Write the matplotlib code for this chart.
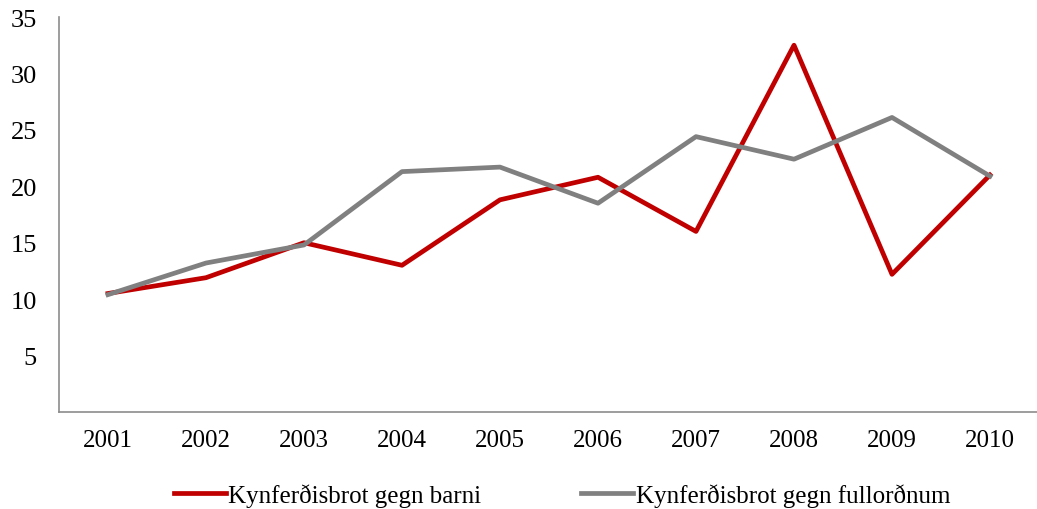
import numpy as np
import matplotlib.pyplot as plt

years = ["2001", "2002", "2003", "2004", "2005", "2006", "2007", "2008", "2009", "2010"]
barni = [10.5, 11.9, 15.0, 13.0, 18.8, 20.8, 16.0, 32.5, 12.2, 21.0]
fullordnum = [10.4, 13.2, 14.8, 21.3, 21.7, 18.5, 24.4, 22.4, 26.1, 20.9]
yticks = [5, 10, 15, 20, 25, 30, 35]

plt.rcParams['font.family'] = ['Liberation Serif', 'DejaVu Serif']

fig = plt.figure(figsize=(10.37, 5.10), dpi=100)
ax = fig.add_axes([59/1037, 97/510, 980/1037, 395/510])

x = np.arange(1, len(years) + 1)
ax.plot(x, barni, color="#C00000", lw=3.4, label="Kynferðisbrot gegn barni")
ax.plot(x, fullordnum, color="#808080", lw=3.4, label="Kynferðisbrot gegn fullorðnum")

ax.set_xlim(0.5, 10.5)
ax.set_ylim(0, 35)
ax.set_xticks(x)
ax.set_xticklabels(years)
ax.set_yticks(yticks)
ax.tick_params(length=0)
ax.tick_params(axis="y", pad=16, labelsize=19)
ax.tick_params(axis="x", pad=12, labelsize=18)

for s in ["top", "right"]:
    ax.spines[s].set_visible(False)
for s in ["left", "bottom"]:
    ax.spines[s].set_color("#8c8c8c")
    ax.spines[s].set_linewidth(1.2)

fig.legend(loc="center", bbox_to_anchor=(0.542, 0.028), ncol=2, frameon=False,
           fontsize=18, handlelength=2.08, handletextpad=0.1, columnspacing=4.0)

fig.savefig("out.png", dpi=100)
